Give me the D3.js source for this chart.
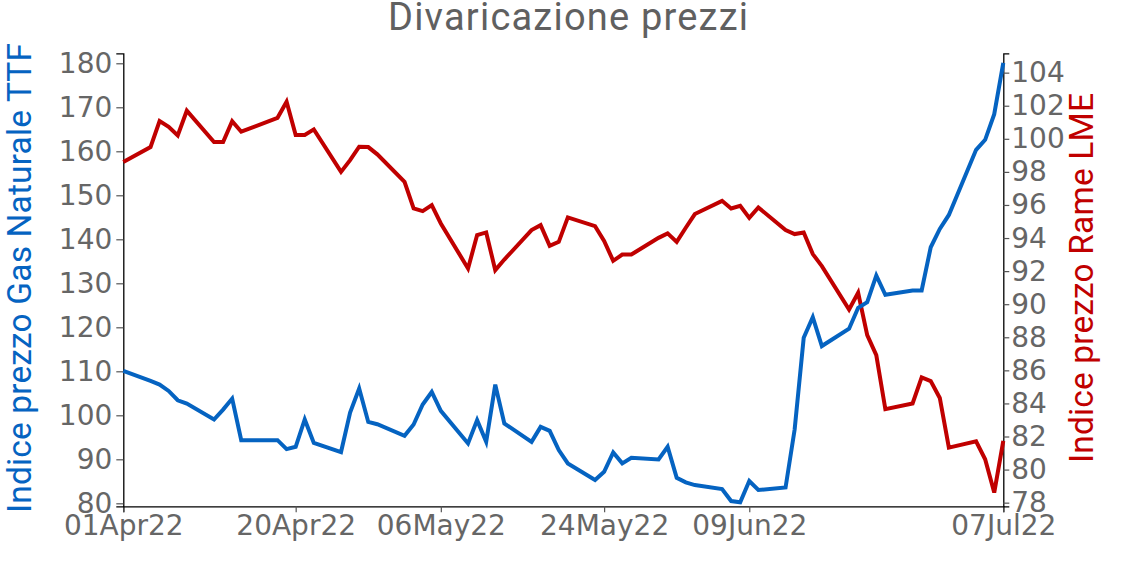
<!DOCTYPE html>
<html>
<head>
<meta charset="utf-8">
<script src="https://cdn.jsdelivr.net/npm/d3@7"></script>
<style>
  html, body { margin: 0; padding: 0; background: #ffffff; }
  svg { display: block; }
</style>
</head>
<body>
<svg id="chart" width="1130" height="562"></svg>
<script>
// ---- data ----
const dates = [
  "2022-04-01","2022-04-04","2022-04-05","2022-04-06","2022-04-07","2022-04-08",
  "2022-04-11","2022-04-12","2022-04-13","2022-04-14","2022-04-18","2022-04-19",
  "2022-04-20","2022-04-21","2022-04-22","2022-04-25","2022-04-26","2022-04-27",
  "2022-04-28","2022-04-29","2022-05-02","2022-05-03","2022-05-04","2022-05-05",
  "2022-05-06","2022-05-09","2022-05-10","2022-05-11","2022-05-12","2022-05-13",
  "2022-05-16","2022-05-17","2022-05-18","2022-05-19","2022-05-20","2022-05-23",
  "2022-05-24","2022-05-25","2022-05-26","2022-05-27","2022-05-30","2022-05-31",
  "2022-06-01","2022-06-02","2022-06-03","2022-06-06","2022-06-07","2022-06-08",
  "2022-06-09","2022-06-10","2022-06-13","2022-06-14","2022-06-15","2022-06-16",
  "2022-06-17","2022-06-20","2022-06-21","2022-06-22","2022-06-23","2022-06-24",
  "2022-06-27","2022-06-28","2022-06-29","2022-06-30","2022-07-01","2022-07-04",
  "2022-07-05","2022-07-06","2022-07-07"
];
const gasTTF = [
  110.07,107.8,106.98,105.53,103.42,102.67,
  99.05,101.3,103.8,94.35,94.35,92.31,
  92.84,99.05,93.74,91.65,100.6,106.07,
  98.5,97.98,95.33,97.9,102.45,105.3,
  101.0,93.6,98.9,93.97,106.98,98.14,
  93.97,97.37,96.46,92.09,89.07,85.28,
  87.17,91.56,89.07,90.34,89.98,92.84,
  85.8,84.76,84.15,83.24,80.52,80.23,
  85.06,83.02,83.6,96.78,117.64,122.31,
  115.74,119.68,124.44,125.71,131.77,127.39,
  128.37,128.37,138.19,142.36,145.53,160.34,
  162.61,168.43,180.1
];
const rameLME = [
  98.6,99.5,101.07,100.73,100.2,101.7,
  99.8,99.8,101.07,100.43,101.27,102.24,
  100.23,100.23,100.57,98.0,98.71,99.52,
  99.5,99.06,97.4,95.79,95.63,95.99,
  94.88,92.16,94.18,94.34,92.06,92.7,
  94.48,94.78,93.53,93.77,95.25,94.72,
  93.83,92.62,93.0,93.0,94.01,94.28,
  93.77,94.62,95.45,96.25,95.79,95.95,
  95.22,95.85,94.48,94.24,94.34,93.03,
  92.3,89.68,90.69,88.13,86.92,83.65,
  84.0,85.57,85.35,84.33,81.33,81.71,
  80.62,78.61,81.73
];
const xTickDates = ["2022-04-01","2022-04-20","2022-05-06","2022-05-24","2022-06-09","2022-07-07"];
const leftTicks = [80,90,100,110,120,130,140,150,160,170,180];
const rightTicks = [78,80,82,84,86,88,90,92,94,96,98,100,102,104];
const titleText = "Divaricazione prezzi";
const leftLabel = "Indice prezzo Gas Naturale TTF";
const rightLabel = "Indice prezzo Rame LME";

// ---- drawing ----
(function () {
const svg = d3.select("#chart");
const pLeft = 123.3, pRight = 1003.3, pTop = 53.3, pBottom = 506.3;
const parse = d3.utcParse("%Y-%m-%d");
const dts = dates.map(parse);

const x = d3.scaleUtc()
  .domain([parse("2022-04-01"), parse("2022-07-07")])
  .range([pLeft, pRight]);
const yL = d3.scaleLinear().domain([79.32, 182.27]).range([pBottom, pTop]);
const yR = d3.scaleLinear().domain([77.78, 105.17]).range([pBottom, pTop]);

const blue = "#0563C1", red = "#C00000", grey = "#666666";
const tickFont = "'DejaVu Sans', sans-serif";

function styleAxis(g) {
  g.select(".domain").attr("stroke", "#000").attr("stroke-width", 1.3);
  g.selectAll(".tick line").attr("stroke", "#555").attr("stroke-width", 1.2);
  g.selectAll(".tick text").attr("fill", grey)
    .style("font-family", tickFont).style("font-size", "28px");
}

// x axis
svg.append("g")
  .attr("transform", `translate(0,${pBottom})`)
  .call(d3.axisBottom(x)
    .tickValues(xTickDates.map(parse))
    .tickFormat(d3.utcFormat("%d%b%y"))
    .tickSize(6).tickPadding(3))
  .call(styleAxis);

// left axis
svg.append("g")
  .attr("transform", `translate(${pLeft},0)`)
  .call(d3.axisLeft(yL).tickValues(leftTicks).tickSize(7).tickPadding(4))
  .call(styleAxis);

// right axis
svg.append("g")
  .attr("transform", `translate(${pRight},0)`)
  .call(d3.axisRight(yR).tickValues(rightTicks).tickSize(6).tickPadding(2))
  .call(styleAxis);

// lines
const rows = dts.map((d, i) => ({ d, g: gasTTF[i], r: rameLME[i] }));
svg.append("path")
  .datum(rows)
  .attr("fill", "none").attr("stroke", red).attr("stroke-width", 4)
  .attr("d", d3.line().x(p => x(p.d)).y(p => yR(p.r)));
svg.append("path")
  .datum(rows)
  .attr("fill", "none").attr("stroke", blue).attr("stroke-width", 4)
  .attr("d", d3.line().x(p => x(p.d)).y(p => yL(p.g)));

// title
svg.append("text")
  .attr("x", 568).attr("y", 30)
  .attr("text-anchor", "middle")
  .attr("textLength", 360).attr("lengthAdjust", "spacing")
  .attr("fill", "#606060")
  .style("font-family", "Roboto, sans-serif").style("font-size", "38px")
  .text(titleText);

// axis titles
svg.append("text")
  .attr("transform", "translate(31,278) rotate(-90)")
  .attr("text-anchor", "middle")
  .attr("textLength", 470).attr("lengthAdjust", "spacing")
  .attr("fill", blue)
  .style("font-family", "Roboto, sans-serif").style("font-size", "33.5px")
  .text(leftLabel);

svg.append("text")
  .attr("transform", "translate(1093,278) rotate(-90)")
  .attr("text-anchor", "middle")
  .attr("textLength", 370).attr("lengthAdjust", "spacing")
  .attr("fill", red)
  .style("font-family", "Roboto, sans-serif").style("font-size", "33.5px")
  .text(rightLabel);
})();
</script>
</body>
</html>
